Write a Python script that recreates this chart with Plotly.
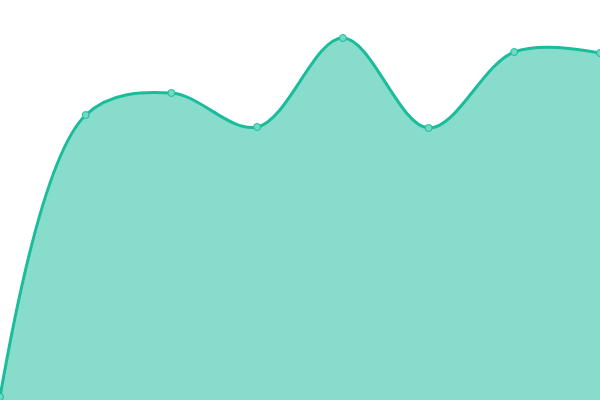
import plotly.graph_objects as go

labels = ["A", "B", "C", "D", "E", "F", "G", "H"]
x_pos = [0, 1, 2, 3, 4, 5, 6, 7]
values = [0.75, 71.25, 76.75, 68.25, 90.5, 68.0, 87.0, 86.75]

line_color = "#1abc9c"
fill_color = "rgba(26,188,156,0.52)"

fig = go.Figure()
fig.add_trace(go.Scatter(
    x=x_pos, y=values, text=labels,
    mode="lines+markers",
    line=dict(color=line_color, width=3, shape="spline", smoothing=1.0),
    fill="tozeroy", fillcolor=fill_color,
    marker=dict(size=7, color="#6fd9c3", line=dict(color=line_color, width=1)),
    hoverinfo="text+y",
))

fig.update_layout(
    width=600, height=400,
    margin=dict(l=0, r=0, t=0, b=0),
    paper_bgcolor="white", plot_bgcolor="white",
    showlegend=False,
    xaxis=dict(visible=False, range=[0, 7]),
    yaxis=dict(visible=False, range=[0, 100]),
)

# page body has a default 8px margin, drop it so the chart fills the window
fig.write_html("out.html", config={"displayModeBar": False},
               post_script="document.body.style.margin='0';")
